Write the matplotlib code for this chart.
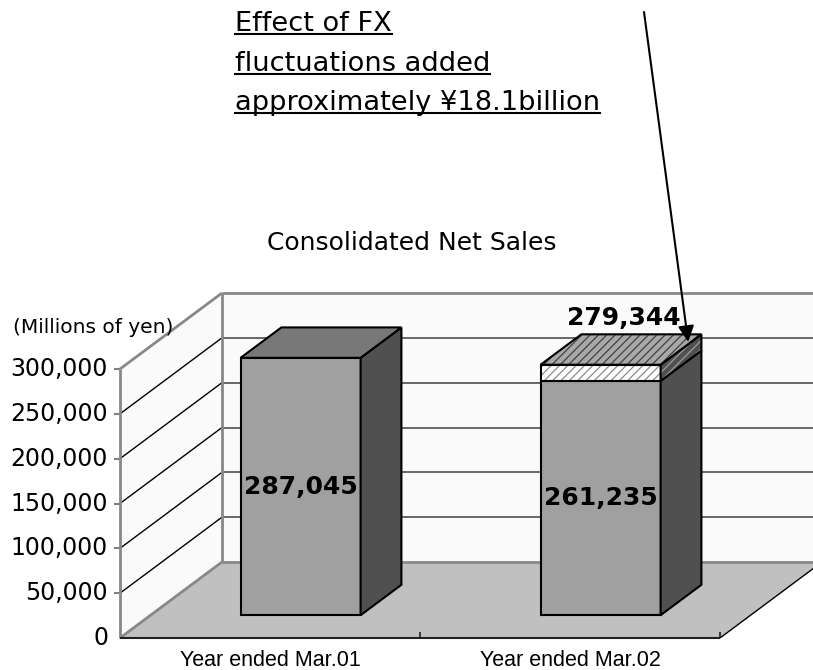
import numpy as np
import matplotlib
matplotlib.use("Agg")
import matplotlib.pyplot as plt
from matplotlib.patches import Polygon
from matplotlib.lines import Line2D

# ---- data (millions of yen) ----
categories = ["Year ended Mar.01", "Year ended Mar.02"]
base_sales = [287045, 261235]       # sales at prior-year FX rates
total_sales = [287045, 279344]      # incl. FX effect
y_ticks = [0, 50000, 100000, 150000, 200000, 250000, 300000]
note_lines = ["Effect of FX", "fluctuations added", "approximately \u00a518.1billion"]
title = "Consolidated Net Sales"
unit_label = "(Millions of yen)"

W, H = 813, 670
fig = plt.figure(figsize=(W / 100, H / 100), dpi=100)
ax = fig.add_axes([120 / W, 32 / H, 600 / W, 269 / H])
ax.set_xlim(0, len(categories))
ax.set_ylim(0, y_ticks[-1])
ax.set_axis_off()

# oblique "3D" depth vector, in data units
DEPTH_PX = np.array([102.0, 76.0])
o = ax.transData.transform((0, 0))
ddx, ddy = ax.transData.inverted().transform(o + DEPTH_PX)
px_x = ax.transData.inverted().transform(o + [1, 0])[0]
px_y = ax.transData.inverted().transform(o + [0, 1])[1]


def P(x, y, d):
    return (x + d * ddx, y + d * ddy)


def face(pts, fc, ec="black", lw=1.5, hatch=None, hatch_ec=None, z=2):
    if hatch:
        ax.add_patch(Polygon(pts, closed=True, fc=fc, ec=hatch_ec, lw=0, hatch=hatch,
                             zorder=z, clip_on=False))
        ax.add_patch(Polygon(pts, closed=True, fill=False, ec=ec, lw=lw, zorder=z,
                             clip_on=False, joinstyle="miter"))
    else:
        ax.add_patch(Polygon(pts, closed=True, fc=fc, ec=ec, lw=lw, zorder=z,
                             clip_on=False, joinstyle="miter"))


def seg(a, b, color, lw, z=1):
    ax.add_line(Line2D([a[0], b[0]], [a[1], b[1]], color=color, lw=lw, zorder=z,
                       clip_on=False, solid_capstyle="butt"))


n = len(categories)
ymax = y_ticks[-1]
plt.rcParams["hatch.linewidth"] = 0.9

# walls + floor
face([P(0, 0, 1), P(n, 0, 1), P(n, ymax, 1), P(0, ymax, 1)], "#fafafa", ec="none", lw=0, z=0)
face([P(0, 0, 0), P(0, 0, 1), P(0, ymax, 1), P(0, ymax, 0)], "#fafafa", ec="none", lw=0, z=0)
face([P(0, 0, 0), P(n, 0, 0), P(n, 0, 1), P(0, 0, 1)], "#c0c0c0", ec="none", lw=0, z=0.5)

for v in y_ticks[1:-1]:
    seg(P(0, v, 0), P(0, v, 1), "black", 1.0)
    seg(P(0, v, 1), P(n, v, 1), "#404040", 1.1)
    seg(P(0, v, 0), P(-6 * px_x, v, 0), "#808080", 1.5)
seg(P(0, ymax, 0), P(-6 * px_x, ymax, 0), "#808080", 1.5)

gray = "#888888"
seg(P(0, ymax, 0), P(0, ymax, 1), gray, 2)
seg(P(0, ymax, 1), P(n, ymax, 1), gray, 2)
seg(P(0, 0, 1), P(0, ymax, 1), gray, 2)
seg(P(0, 0, 0), P(0, ymax, 0), gray, 2)
seg(P(0, 0, 1), P(n, 0, 1), gray, 2)
seg(P(0, 0, 0), P(0, 0, 1), gray, 2)
seg(P(0, 0, 0), P(n, 0, 0), "#202020", 1.5)
seg(P(n, 0, 0), P(n, 0, 1), "black", 1.0)
for k in range(1, n + 1):
    seg(P(k, 0, 0), P(k, 6 * px_y, 0), "#202020", 1.2)

# bars
d0, d1, hw = 0.30, 0.70, 0.20
for i, (b, t) in enumerate(zip(base_sales, total_sales)):
    xc = i + 0.5
    x0, x1 = xc - hw, xc + hw
    face([P(x0, 0, d0), P(x1, 0, d0), P(x1, b, d0), P(x0, b, d0)], "#a0a0a0", z=3)
    face([P(x1, 0, d0), P(x1, 0, d1), P(x1, b, d1), P(x1, b, d0)], "#505050", z=3)
    if t > b:
        face([P(x0, b, d0), P(x1, b, d0), P(x1, t, d0), P(x0, t, d0)], "white",
             hatch="////", hatch_ec="#8a8a8a", z=3)
        face([P(x1, b, d0), P(x1, b, d1), P(x1, t, d1), P(x1, t, d0)], "#505050",
             hatch="////", hatch_ec="#9a9a9a", z=3)
        face([P(x0, t, d0), P(x1, t, d0), P(x1, t, d1), P(x0, t, d1)], "#a8a8a8",
             hatch="////", hatch_ec="#404040", z=3)
        ax.annotate(f"{t:,}", xy=P(xc, t, 0.5), xytext=(3, 25), textcoords="offset pixels",
                    ha="center", va="baseline", fontsize=18, fontweight="bold",
                    family="DejaVu Sans", zorder=6, annotation_clip=False)
    else:
        face([P(x0, t, d0), P(x1, t, d0), P(x1, t, d1), P(x0, t, d1)], "#787878", z=3)
    ax.text(*P(xc, b / 2, d0), f"{b:,}", ha="center", va="center", fontsize=18,
            fontweight="bold", family="DejaVu Sans", zorder=6)

# axis labels
for v in y_ticks:
    ax.annotate(f"{v:,}", xy=(0, v), xytext=(-12, 0), textcoords="offset pixels",
                ha="right", va="center", fontsize=17, family="DejaVu Sans",
                annotation_clip=False)
for i, c in enumerate(categories):
    ax.annotate(c, xy=(i + 0.5, 0), xytext=(0, -28), textcoords="offset pixels",
                ha="center", va="baseline", fontsize=15.5, family="Liberation Sans",
                annotation_clip=False)

fig.text(13 / W, (H - 333) / H, unit_label, ha="left", va="baseline", fontsize=14.5,
         family="DejaVu Sans")
fig.text(412 / W, (H - 250) / H, title, ha="center", va="baseline", fontsize=18,
         family="DejaVu Sans")

# FX note with underline + arrow
notes = []
for line, base_y in zip(note_lines, [31, 71, 110]):
    notes.append(fig.text(235 / W, (H - base_y) / H, line, ha="left", va="baseline",
                          fontsize=19.6, family="DejaVu Sans"))
fig.canvas.draw()
r = fig.canvas.get_renderer()
for tx, base_y in zip(notes, [31, 71, 110]):
    bb = tx.get_window_extent(r)
    yy = (H - base_y - 3) / H
    fig.add_artist(Line2D([bb.x0 / W, bb.x1 / W], [yy, yy], transform=fig.transFigure,
                          color="black", lw=1.5))

ax.annotate("", xy=P(1.69, total_sales[1], 0.6), xytext=(644, H - 12),
            textcoords="figure pixels",
            arrowprops=dict(arrowstyle="-|>", color="black", lw=1.5, mutation_scale=24,
                            shrinkA=0, shrinkB=0),
            zorder=7, annotation_clip=False)

fig.savefig("out.png", dpi=100)
